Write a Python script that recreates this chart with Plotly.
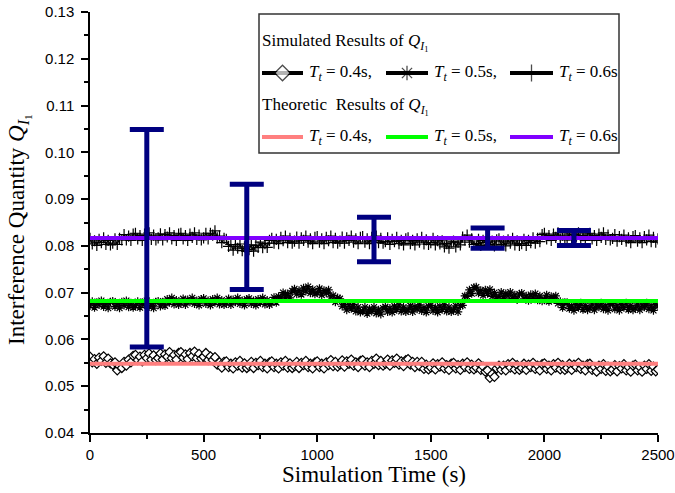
import numpy as np
import plotly.graph_objects as go

# ---- data (simulated series, units of 1e-4) ----
sim_time = np.arange(0, 2501, 10)

q_sim_04 = [
    563, 551, 558, 548, 561, 554, 564, 550, 559, 549,
    546, 551, 534, 543, 539, 552, 544, 557, 551, 565,
    567, 556, 563, 553, 567, 560, 570, 557, 566, 556,
    560, 570, 557, 568, 563, 573, 560, 567, 557, 571,
    573, 561, 568, 558, 571, 564, 574, 560, 569, 559,
    563, 571, 556, 564, 556, 562, 546, 551, 540, 552,
    553, 541, 548, 538, 551, 544, 554, 540, 549, 539,
    543, 552, 539, 550, 545, 554, 541, 548, 538, 551,
    553, 541, 548, 538, 551, 544, 554, 540, 549, 539,
    543, 552, 539, 550, 545, 554, 541, 548, 538, 551,
    553, 541, 548, 538, 551, 545, 556, 543, 552, 542,
    546, 555, 542, 553, 548, 557, 544, 551, 541, 554,
    556, 544, 551, 541, 554, 548, 559, 545, 554, 544,
    548, 557, 544, 555, 550, 559, 546, 553, 543, 556,
    558, 546, 552, 541, 552, 543, 552, 537, 546, 536,
    540, 549, 536, 547, 542, 551, 538, 545, 535, 548,
    550, 538, 545, 535, 548, 541, 551, 537, 546, 536,
    540, 549, 535, 542, 531, 534, 518, 526, 520, 538,
    544, 535, 544, 534, 547, 540, 550, 536, 545, 535,
    539, 548, 535, 546, 541, 550, 537, 544, 534, 547,
    549, 537, 544, 534, 547, 540, 550, 536, 545, 535,
    539, 548, 535, 546, 541, 550, 537, 544, 534, 547,
    548, 535, 541, 531, 544, 537, 547, 533, 542, 532,
    536, 545, 532, 543, 538, 547, 534, 541, 531, 544,
    546, 534, 541, 531, 544, 537, 547, 533, 542, 532,
    536,
]
q_sim_05 = [
    672, 681, 668, 679, 674, 683, 670, 677, 667, 680,
    682, 670, 677, 667, 680, 673, 683, 669, 678, 668,
    672, 681, 668, 679, 674, 683, 670, 677, 667, 680,
    682, 671, 680, 672, 686, 679, 689, 675, 684, 674,
    678, 687, 674, 685, 680, 689, 676, 683, 673, 686,
    688, 676, 683, 673, 686, 679, 689, 675, 684, 674,
    678, 687, 674, 685, 680, 689, 676, 683, 673, 686,
    688, 676, 683, 673, 686, 679, 689, 675, 684, 674,
    679, 690, 679, 692, 689, 700, 689, 698, 689, 704,
    708, 697, 705, 696, 710, 703, 713, 699, 707, 697,
    700, 709, 695, 705, 699, 706, 691, 694, 680, 689,
    687, 671, 675, 663, 674, 666, 675, 660, 669, 658,
    661, 669, 655, 665, 660, 669, 656, 663, 654, 667,
    670, 659, 667, 658, 671, 664, 674, 660, 669, 659,
    663, 672, 659, 670, 665, 674, 661, 668, 658, 671,
    673, 661, 668, 658, 671, 664, 674, 660, 669, 659,
    663, 672, 659, 672, 673, 693, 692, 706, 698, 711,
    712, 699, 705, 694, 706, 698, 707, 692, 700, 689,
    692, 701, 687, 698, 693, 701, 688, 695, 685, 697,
    699, 687, 693, 683, 696, 688, 698, 684, 693, 682,
    686, 695, 681, 692, 686, 693, 677, 681, 668, 679,
    679, 666, 672, 662, 675, 668, 678, 664, 673, 663,
    667, 676, 663, 674, 669, 678, 665, 672, 662, 675,
    677, 665, 672, 662, 675, 668, 678, 664, 673, 663,
    667, 676, 663, 674, 669, 678, 665, 672, 662, 675,
    671,
]
q_sim_06 = [
    816, 804, 811, 801, 814, 807, 817, 803, 812, 802,
    806, 815, 803, 816, 813, 824, 813, 821, 812, 825,
    827, 815, 822, 812, 825, 818, 828, 814, 823, 813,
    817, 826, 813, 824, 819, 828, 815, 822, 812, 825,
    827, 815, 822, 812, 825, 818, 828, 814, 823, 813,
    817, 827, 815, 827, 823, 832, 817, 821, 807, 816,
    814, 799, 803, 791, 803, 795, 804, 790, 798, 788,
    792, 802, 789, 801, 797, 808, 796, 805, 797, 812,
    816, 806, 814, 805, 818, 811, 821, 807, 816, 806,
    810, 819, 806, 817, 812, 821, 808, 815, 805, 818,
    820, 808, 815, 805, 818, 811, 821, 807, 816, 806,
    810, 819, 806, 817, 812, 821, 808, 815, 805, 818,
    820, 808, 815, 805, 818, 811, 821, 807, 816, 806,
    809, 817, 803, 814, 809, 818, 805, 812, 802, 815,
    817, 805, 812, 802, 815, 808, 818, 804, 813, 803,
    807, 816, 802, 811, 804, 811, 798, 805, 795, 808,
    810, 798, 808, 802, 819, 813, 823, 808, 815, 803,
    805, 814, 801, 812, 807, 816, 803, 810, 800, 813,
    815, 803, 810, 800, 813, 806, 816, 802, 811, 801,
    805, 814, 801, 812, 807, 817, 806, 816, 809, 824,
    827, 815, 822, 812, 825, 818, 828, 814, 823, 813,
    817, 826, 813, 824, 819, 828, 815, 822, 812, 825,
    827, 815, 822, 812, 825, 818, 828, 814, 823, 813,
    816, 824, 810, 820, 814, 823, 810, 817, 807, 820,
    822, 810, 817, 807, 820, 813, 823, 809, 818, 808,
    815,
]

theory_time = [0, 2500]
q_theory = [0.0548, 0.0682, 0.0817]
theory_colors = ["#FF7F7F", "#00FF00", "#8000FF"]
sim_symbols = ["diamond", "asterisk-open", "cross-thin-open"]
sim_sizes = [7, 7, 8]
legend_labels = ["0.4s,", "0.5s,", "0.6s"]

err_time = [250, 690, 1250, 1750, 2130]
err_low = [0.0584, 0.0707, 0.0766, 0.0795, 0.0801]
err_high = [0.1049, 0.0932, 0.0861, 0.0838, 0.0833]

# ---- figure ----
W, H = 675, 493
PL, PR, PT, PB = 90, 658, 12, 433
serif = "Liberation Serif"
sans = "Liberation Sans"

fig = go.Figure()

for vals, sym, sz in zip([q_sim_04, q_sim_05, q_sim_06], sim_symbols, sim_sizes):
    mcol = "white" if sym == "diamond" else "black"
    fig.add_trace(go.Scatter(x=sim_time, y=np.array(vals) / 1e4,
                             mode="lines+markers",
                             line=dict(color="black", width=1.2),
                             marker=dict(symbol=sym, size=sz, color=mcol,
                                         line=dict(color="black", width=1.2)),
                             showlegend=False))

for v, c in zip(q_theory, theory_colors):
    fig.add_trace(go.Scatter(x=theory_time, y=[v, v], mode="lines",
                             line=dict(color=c, width=4), showlegend=False))

err_mid = [(a + b) / 2 for a, b in zip(err_low, err_high)]
fig.add_trace(go.Scatter(x=err_time, y=err_mid, mode="markers",
                         marker=dict(size=1, color="rgba(0,0,0,0)"),
                         error_y=dict(type="data", symmetric=False,
                                      array=[h - m for h, m in zip(err_high, err_mid)],
                                      arrayminus=[m - l for l, m in zip(err_low, err_mid)],
                                      color="#000080", thickness=5, width=17),
                         showlegend=False))

# ---- hand-made legend, laid out in page pixels on an overlay axis ----
def px(x):
    return (x - PL) / (PR - PL)

def py(y):
    return (PB - y) / (PB - PT)

sample_x = [(262, 303), (386, 428), (510, 553)]
text_x = [307, 432, 557]
row_sim, row_th = 73, 137

for (x0, x1), sym in zip(sample_x, sim_symbols):
    mcol = "white" if sym == "diamond" else "black"
    fig.add_trace(go.Scatter(x=[x0, (x0 + x1) / 2, x1], y=[row_sim] * 3,
                             xaxis="x2", yaxis="y2", mode="lines+markers",
                             line=dict(color="black", width=4),
                             marker=dict(symbol=sym, size=[0, 12, 0], color=mcol,
                                         line=dict(color="black", width=1.3)),
                             cliponaxis=False, showlegend=False, hoverinfo="skip"))
for (x0, x1), c in zip(sample_x, theory_colors):
    fig.add_trace(go.Scatter(x=[x0, x1], y=[row_th] * 2,
                             xaxis="x2", yaxis="y2", mode="lines",
                             line=dict(color=c, width=4),
                             cliponaxis=False, showlegend=False, hoverinfo="skip"))

qsym = "<i>Q</i><sub><i>I</i><sub>1</sub></sub>"
ann = [
    dict(x=px(260), y=py(42), text="Simulated Results of " + qsym),
    dict(x=px(260), y=py(107), text="Theoretic\u00a0 Results of " + qsym),
]
for tx, lab in zip(text_x, legend_labels):
    for row in (row_sim, row_th):
        ann.append(dict(x=px(tx), y=py(row),
                        text="<i>T</i><sub><i>t</i></sub> = " + lab))
for a in ann:
    a.update(xanchor="left", font=dict(family=serif, size=17, color="black"))

# axis titles
ann.append(dict(x=px(374), y=py(475), text="Simulation Time (s)", xanchor="center",
                font=dict(family=serif, size=23, color="black")))
ann.append(dict(x=px(19), y=py(230), text="Interference Quantity " + qsym,
                xanchor="center", textangle=-90,
                font=dict(family=serif, size=23, color="black")))
for a in ann:
    a.update(xref="paper", yref="paper", yanchor="middle", showarrow=False)

fig.update_layout(
    width=W, height=H,
    margin=dict(l=PL, r=W - PR, t=PT, b=H - PB, autoexpand=False),
    paper_bgcolor="white", plot_bgcolor="white",
    font=dict(family=sans, size=15, color="black"),
    annotations=ann,
    shapes=[dict(type="rect", xref="paper", yref="paper",
                 x0=px(259), x1=px(619), y0=py(153), y1=py(14),
                 line=dict(color="#333333", width=1.5), fillcolor="rgba(0,0,0,0)")],
    xaxis=dict(range=[0, 2500], dtick=500, showgrid=False, zeroline=False,
               automargin=False, ticklabeloverflow="allow",
               showline=True, linecolor="black", linewidth=1.5,
               ticks="outside", ticklen=7, tickwidth=1.5, tickcolor="black",
               minor=dict(dtick=250, ticks="outside", ticklen=4, tickcolor="black")),
    yaxis=dict(range=[0.04, 0.13], dtick=0.01, tickformat=".2f", showgrid=False,
               zeroline=False, showline=True, linecolor="black", linewidth=1.5,
               automargin=False, ticklabelstandoff=4, ticklabeloverflow="allow",
               ticks="outside", ticklen=7, tickwidth=1.5, tickcolor="black",
               minor=dict(dtick=0.005, ticks="outside", ticklen=4, tickcolor="black")),
    xaxis2=dict(range=[PL, PR], overlaying="x", visible=False),
    yaxis2=dict(range=[PB, PT], overlaying="y", visible=False),
)

# drop the default 8px page margin so the 675x493 figure fills the window
fig.write_html("out.html", config={"displayModeBar": False},
               post_script="document.body.style.margin = '0';")
